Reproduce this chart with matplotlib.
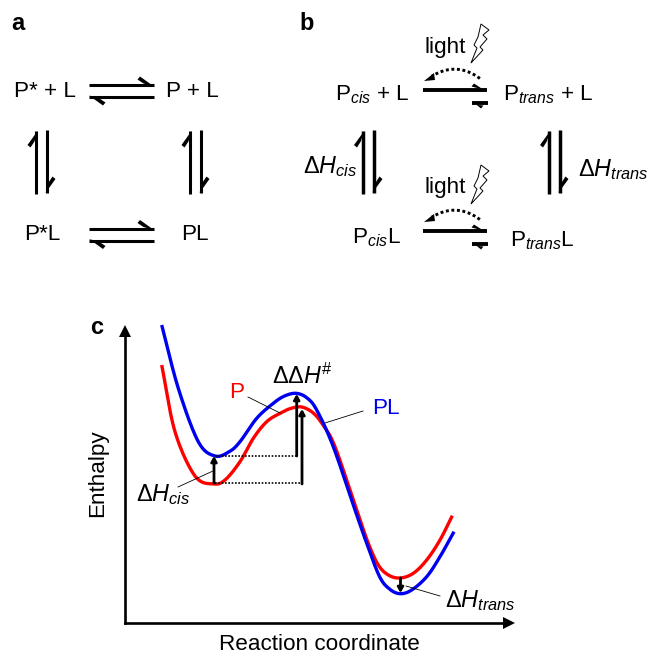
import numpy as np
import matplotlib
matplotlib.use("Agg")
import matplotlib.pyplot as plt
from matplotlib.patches import Polygon

plt.rcParams['font.family'] = ['Liberation Sans', 'DejaVu Sans']
plt.rcParams['mathtext.fontset'] = 'custom'
plt.rcParams['mathtext.rm'] = 'Liberation Sans'
plt.rcParams['mathtext.it'] = 'Liberation Sans:italic'
plt.rcParams['mathtext.bf'] = 'Liberation Sans:bold'
plt.rcParams['mathtext.fallback'] = 'stix'

# ---- data: reaction coordinate vs enthalpy (arbitrary units) ----
blue_x = [37.2, 53.8, 73.8, 90.5, 105, 115.5, 132.2, 148.8, 160, 171.5, 182.2, 192.2, 208.8, 230.5, 242.2, 255, 265, 275.5, 287.2, 302.2, 315.5, 329.5]
blue_y = [297.5, 234.2, 180.8, 166.5, 171, 180.8, 204.2, 219.2, 226.5, 229.2, 224.8, 212.5, 175.8, 112.5, 79.2, 46, 33.5, 28.8, 32.5, 45.8, 65.8, 90.8]
red_x = [37.2, 50.5, 70.5, 88.8, 100.5, 115.5, 128.8, 142.2, 155.5, 166, 177.2, 188.8, 198.8, 210.5, 232.2, 243.8, 253.8, 263.8, 275.5, 288.8, 302.2, 315.5, 327.8]
red_y = [257.5, 190.8, 146.5, 138.5, 142.5, 160.8, 184.2, 200.8, 209.2, 214, 215.5, 209.5, 197, 175.8, 112.5, 79.2, 57.5, 47.5, 44.5, 49.2, 62.5, 82.5, 106.8]

px_c = (124.5, 509, 622.5, 331)
W, H = 647, 654
fig = plt.figure(figsize=(W / 100, H / 100), dpi=100)

def smooth(x, y, n=20):
    p = np.column_stack([x, y]).astype(float)
    p = np.vstack([2 * p[0] - p[1], p, 2 * p[-1] - p[-2]])
    out = []
    t = np.linspace(0, 1, n, endpoint=False)[:, None]
    for i in range(1, len(p) - 2):
        a, b, c, d = p[i - 1], p[i], p[i + 1], p[i + 2]
        out.append(0.5 * (2 * b + (c - a) * t + (2 * a - 5 * b + 4 * c - d) * t ** 2 + (3 * b - a - 3 * c + d) * t ** 3))
    out.append(p[-2][None, :])
    return np.vstack(out).T

# ---- panel c axes, with its own data scale ----
axc = fig.add_axes([px_c[0] / W, 1 - px_c[2] / H, (px_c[1] - px_c[0]) / W, (px_c[2] - px_c[3]) / H])
axc.set_xlim(0, px_c[1] - px_c[0])
axc.set_ylim(0, px_c[2] - px_c[3])
axc.set_xticks([]); axc.set_yticks([])
axc.patch.set_alpha(0)
for s in ('top', 'right'):
    axc.spines[s].set_visible(False)
for s in ('left', 'bottom'):
    axc.spines[s].set_linewidth(1.9)
rx, ry = smooth(red_x, red_y)
bx, by = smooth(blue_x, blue_y)
axc.plot(rx, ry, color='#ff0000', lw=2.4, solid_capstyle='butt', clip_on=False)
axc.plot(bx, by, color='#0000f0', lw=2.4, solid_capstyle='butt', clip_on=False)
axc.plot(1, 0, '>k', ms=8, mew=0, transform=axc.transAxes, clip_on=False)
axc.plot(0, 1, '^k', ms=8, mew=0, transform=axc.transAxes, clip_on=False)

# ---- overlay for the schemes, in pixels ----
ax = fig.add_axes([0, 0, 1, 1])
ax.set_xlim(0, W); ax.set_ylim(H, 0); ax.axis('off'); ax.patch.set_alpha(0)

def harpoon(x0, y0, x1, y1, side=-1, lw=2.2, hl=14, hw=7):
    d = np.array([x1 - x0, y1 - y0], float); d /= np.hypot(*d)
    n = np.array([-d[1], d[0]]) * side
    tip = np.array([x1, y1], float)
    half = lw * 0.69
    ax.plot([x0, x1], [y0, y1], color='k', lw=lw, solid_capstyle='butt')
    ax.add_patch(Polygon([tip - n * half, tip - d * hl + n * (hw + 1.5),
                          tip - d * (hl + 2.5) + n * (hw - 1.5), tip - d * (hl - 3.5) + n * half],
                         closed=True, color='k', lw=0))

def txt(x, y, s, size=16.2, **kw):
    kw.setdefault('ha', 'center'); kw.setdefault('va', 'center')
    ax.text(x, y, s, fontsize=size, **kw)

# panel letters
txt(18, 24, 'a', 17, fontweight='bold')
txt(307, 24, 'b', 17, fontweight='bold')
txt(97, 327, 'c', 17, fontweight='bold')

# panel a
txt(44.5, 91.5, 'P* + L'); txt(192.5, 91.5, 'P + L')
txt(42, 234.5, 'P*L'); txt(195, 234.5, 'PL')
for y in (85, 228.5):
    harpoon(89, y, 154, y)
    harpoon(154, y + 12, 89, y + 12)
for x in (36, 190):
    harpoon(x, 194, x, 131)
    harpoon(x + 11, 130, x + 11, 193)

# panel b
txt(372.5, 95, r'P$_{\mathit{cis}}$ + L')
txt(548, 95, r'P$_{\mathit{trans}}$ + L')
txt(376, 238, r'P$_{\mathit{cis}}$L')
txt(542, 241, r'P$_{\mathit{trans}}$L')
txt(445, 47, 'light'); txt(445, 188, 'light')
txt(330, 167, r'$\Delta\mathit{H}_{\mathit{cis}}$', 16.8)
txt(613, 170, r'$\Delta\mathit{H}_{\mathit{trans}}$', 16.8)

bolt_x = [481, 489, 483, 487, 480, 483, 471, 477, 474, 478]
bolt_y = [24, 30, 35, 39, 47, 50, 63, 48, 45, 37]
for off in (0, 141):
    harpoon(423, 90 + off, 487, 90 + off, lw=2.8, hl=13, hw=5)
    harpoon(488, 103 + off, 472, 103 + off, lw=2.8, hl=9, hw=4)
    t = np.linspace(0.06, 0.95, 40)
    cx = 483 * (1 - t) ** 2 + 2 * t * (1 - t) * 457 + 429 * t ** 2
    cy = (81 + off) * (1 - t) ** 2 + 2 * t * (1 - t) * (59 + off) + (78 + off) * t ** 2
    ax.plot(cx, cy, color='k', lw=2.1, ls=(0, (1, 0.9)))
    ax.add_patch(Polygon([[424, 81 + off], [434, 73 + off], [435, 80 + off]], closed=True, color='k', lw=0))
    ax.add_patch(Polygon(np.column_stack([bolt_x, np.array(bolt_y) + off]), closed=True, fc='white', ec='k', lw=0.7))
for x in (362.5, 548.5):
    harpoon(x, 194, x, 131, lw=2.5)
    harpoon(x + 11.5, 130, x + 11.5, 193, lw=2.5)

# panel c annotations
txt(98, 473, 'Enthalpy', rotation=90)
txt(319.5, 644, 'Reaction coordinate')
txt(236.5, 393, 'P', color='#ff0000')
txt(386, 408, 'PL', color='#0000f0')
txt(302, 376, r'$\Delta\Delta\mathit{H}^{\mathit{\#}}$', 16.8)
txt(163, 495, r'$\Delta\mathit{H}_{\mathit{cis}}$', 16.8)
txt(480, 601, r'$\Delta\mathit{H}_{\mathit{trans}}$', 16.8)

ax.plot([215, 297], [456, 456], color='k', lw=1.2, ls=(0, (1, 1)))
ax.plot([215, 302], [483, 483], color='k', lw=1.2, ls=(0, (1, 1)))
for xa, ya, xb, yb in [(296.7, 456, 296.7, 394), (302, 484, 302, 409), (214, 483, 214, 456), (400.5, 578, 400.5, 593)]:
    ax.annotate('', xy=(xb, yb), xytext=(xa, ya),
                arrowprops=dict(arrowstyle='-|>,head_length=0.3,head_width=0.17', lw=2.0, color='k', shrinkA=0, shrinkB=0))
for xs, ys in [((248, 280), (397, 413)), ((325, 363), (423, 411)), ((178, 213), (487, 471)), ((406, 440), (586, 596))]:
    ax.plot(xs, ys, color='k', lw=0.6)

fig.savefig('out.png', dpi=100)
